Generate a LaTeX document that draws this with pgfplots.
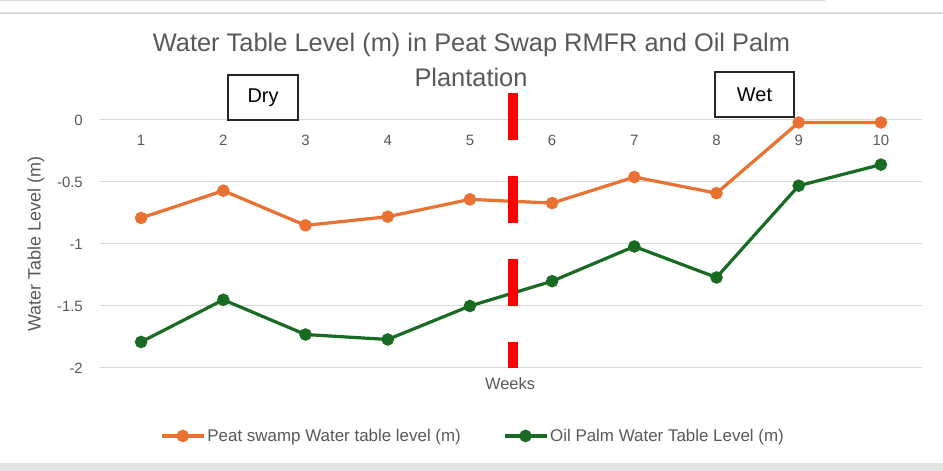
\documentclass[border=0pt]{standalone}
\usepackage{fontspec}
\setmainfont{Liberation Sans}
\usepackage{pgfplots}
\pgfplotsset{compat=1.18}
\definecolor{peat}{HTML}{E97132}
\definecolor{palm}{HTML}{196B24}
\definecolor{txtgray}{HTML}{595959}
\definecolor{gridgray}{HTML}{D9D9D9}
\begin{document}
\begin{tikzpicture}[x=1bp,y=1bp]
\path[use as bounding box] (0,0) rectangle (943,471);
\fill[white] (0,0) rectangle (943,471);
% screenshot frame lines
\draw[gridgray, line width=1.5bp] (0,470.5) -- (825,470.5);
\draw[gridgray, line width=2bp] (0,458) -- (943,458);
\fill[gridgray!70] (0,0) rectangle (943,8);
\begin{axis}[
  at={(100bp,103bp)}, anchor=south west,
  width=822bp, height=248bp, scale only axis,
  xmin=0.5, xmax=10.5, ymin=-2, ymax=0,
  clip=false,
  axis line style={draw=none},
  major tick length=0pt,
  xtick={1,2,3,4,5,6,7,8,9,10},
  ytick={-2,-1.5,-1,-0.5,0},
  yticklabels={-2,-1.5,-1,-0.5,0},
  ymajorgrids, grid style={gridgray, line width=1bp},
  xticklabel pos=upper,
  /pgf/number format/assume math mode=true,
  ticklabel style={font=\fontsize{15}{15}\selectfont, text=txtgray},
  xticklabel style={anchor=north, inner sep=0pt, yshift=-15bp},
  yticklabel style={anchor=east, inner sep=0pt, xshift=-17bp},
  legend style={draw=none, fill=none, legend columns=2,
    at={(0.4538,-0.274)}, anchor=center,
    font=\fontsize{17}{17}\selectfont, text=txtgray,
    nodes={inner sep=2bp},
    /tikz/every even column/.append style={column sep=40bp}},
  legend image code/.code={\draw[mark repeat=2,mark phase=2] plot coordinates {(0bp,0bp) (21bp,0bp) (42bp,0bp)};},
]
\addplot[peat, line width=3.2bp, mark=*, mark size=4.6bp] coordinates {
(1,-0.79) (2,-0.57) (3,-0.85) (4,-0.78) (5,-0.64) (6,-0.67) (7,-0.46) (8,-0.59) (9,-0.02) (10,-0.02)};
\addlegendentry{Peat swamp Water table level (m)}
\addplot[palm, line width=3.2bp, mark=*, mark size=4.6bp] coordinates {
(1,-1.79) (2,-1.45) (3,-1.73) (4,-1.77) (5,-1.50) (6,-1.30) (7,-1.02) (8,-1.27) (9,-0.53) (10,-0.36)};
\addlegendentry{Oil Palm Water Table Level (m)}
\draw[red, line width=10bp, dash pattern=on 47bp off 36bp] (axis cs:5.53,0.218) -- (axis cs:5.53,-2);
\end{axis}
% title
\node[text=txtgray, font=\fontsize{25.5}{25.5}\selectfont] at (471.5,426) {Water Table Level (m) in Peat Swap RMFR and Oil Palm};
\node[text=txtgray, font=\fontsize{25.5}{25.5}\selectfont] at (471,394) {Plantation};
% axis titles
\node[text=txtgray, font=\fontsize{18}{18}\selectfont, rotate=90] at (36,227) {Water Table Level (m)};
\node[text=txtgray, font=\fontsize{16.5}{16.5}\selectfont] at (510,87) {Weeks};
% season boxes
\draw[black!85, line width=1.2bp, fill=white] (228,351) rectangle (298,396);
\node[font=\fontsize{20}{20}\selectfont] at (263,373.5) {Dry};
\draw[black!85, line width=1.2bp, fill=white] (715,354) rectangle (794,399);
\node[font=\fontsize{20}{20}\selectfont] at (754.5,376.5) {Wet};
\end{tikzpicture}
\end{document}
